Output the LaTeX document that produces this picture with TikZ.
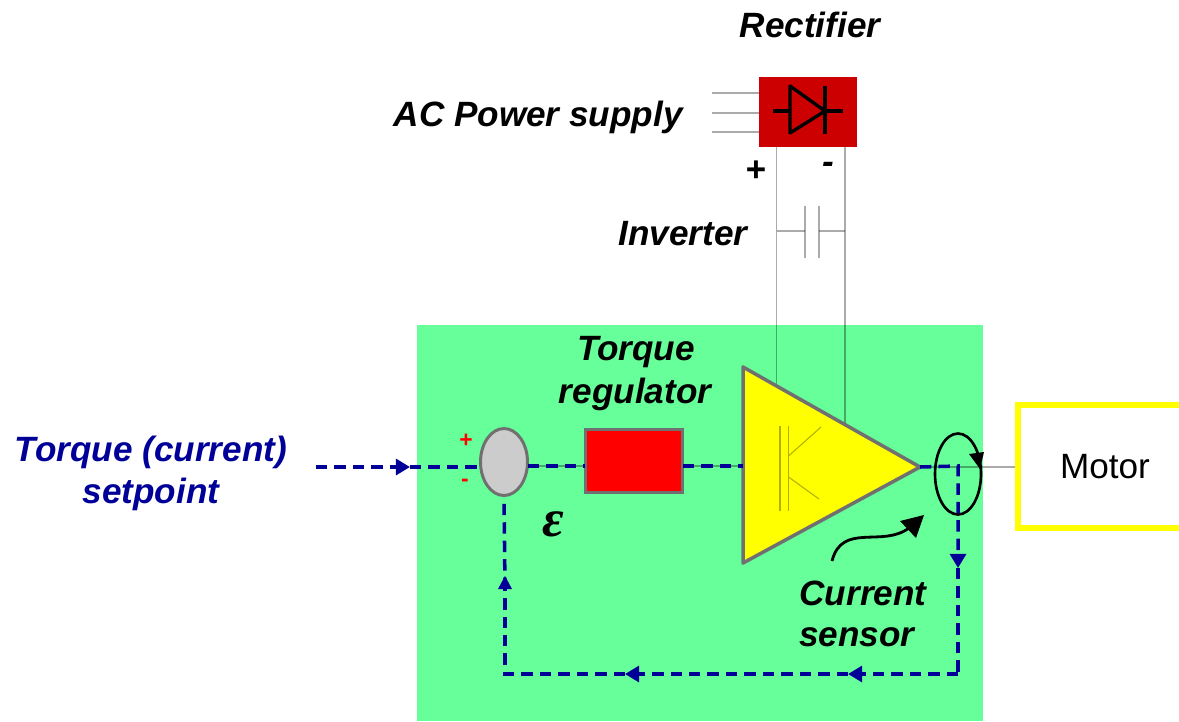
\documentclass[tikz,border=0pt]{standalone}
\usepackage{fontspec}
\setmainfont{Liberation Sans}
\newfontfamily\epsfont{Liberation Serif}
\usetikzlibrary{arrows.meta,shapes.geometric}
\definecolor{panelgreen}{HTML}{66FF99}
\definecolor{rectred}{HTML}{CC0000}
\definecolor{setblue}{HTML}{000099}
\definecolor{boxgray}{HTML}{707070}
\definecolor{pureyellow}{HTML}{FFFF00}
\definecolor{igbtline}{HTML}{B0B000}
\tikzset{
  lbl/.style={font=\fontsize{20}{24}\selectfont\bfseries\itshape, inner sep=0pt},
  wire/.style={draw=black, draw opacity=0.33, line width=0.7pt},
  sig/.style={draw=setblue, line width=2pt, dash pattern=on 6.5pt off 4pt},
  sigtip/.style={-{Triangle[length=8pt,width=9pt,fill=setblue]}},
  ink/.style={draw=black, line width=1.6pt},
}
\begin{document}
\begin{tikzpicture}[x=0.02cm,y=-0.02cm]
        \useasboundingbox (0,0) rectangle (1179,721);
        \fill[panelgreen] (417,325) rectangle (983,721);
        %-----rectifier and supply
         \node[draw=none, fill=rectred, minimum width=1.96cm, minimum height=1.4cm, inner sep=0pt] (RECT) at (808,112) {};
         \node[lbl] (RECTL) at (810,25) {Rectifier};
         \node[lbl, anchor=east] (ACL) at (683,117) {AC Power supply};
         \node[lbl] (PLUS) at (756,171) {+};
         \node[lbl] (MINUS) at (828,168) {-};
         \node[lbl] (INVL) at (683,234) {Inverter};
         \coordinate (ACa) at (712,93);
         \coordinate (ACb) at (712,113);
         \coordinate (ACc) at (712,132);
         \foreach \from in {ACa,ACb,ACc}
         \draw[wire] (\from) -- (\from -| RECT.west);
         %-----diode
         \coordinate (Da) at (773,111);
         \coordinate (Db) at (843,111);
         \coordinate (Dc) at (790,86);
         \coordinate (Dd) at (790,133);
         \coordinate (De) at (825,111);
         \coordinate (Df) at (825,86);
         \coordinate (Dg) at (825,134);
         \draw[line width=1.9pt] (Da) -- (Dc |- Da);
         \draw[line width=1.9pt] (De) -- (Db);
         \draw[line width=1.9pt, line join=round] (Dc) -- (De) -- (Dd) -- cycle;
         \draw[line width=1.9pt] (Df) -- (Dg);
        %-----drive panel
         \coordinate (TRa) at (743,367);
         \coordinate (TRb) at (743,563);
         \coordinate (TRc) at (920,467);
         \coordinate (POS) at (776.5,386);
         \coordinate (NEG) at (845,424);
         \draw[wire] (POS |- RECT.south) -- (POS);
         \draw[wire] (NEG |- RECT.south) -- (NEG);
         \coordinate (CAPa) at (805,231);
         \coordinate (CAPb) at (819,231);
         \draw[wire] (POS |- CAPa) -- (CAPa);
         \draw[wire] (CAPb) -- (NEG |- CAPb);
         \draw[wire] (805,206) -- (805,258);
         \draw[wire] (819,206) -- (819,258);
         \node[draw=boxgray, fill=black!20, ellipse, line width=1.7pt, minimum width=0.94cm, minimum height=1.34cm, inner sep=0pt] (SUM) at (504,462) {};
         \node[draw=boxgray, fill=red, line width=1.5pt, minimum width=1.94cm, minimum height=1.26cm, inner sep=0pt] (REG) at (634,461) {};
         \node[draw=pureyellow, line width=3.4pt, minimum width=3.6cm, minimum height=2.46cm, inner sep=0pt, anchor=west] (MOT) at (1015,466.5) {};
         \node[font=\fontsize{20}{24}\selectfont, inner sep=0pt] (MOTL) at (1105,467) {Motor};
         \node[draw=black, line width=1.5pt, ellipse, minimum width=0.92cm, minimum height=1.62cm, inner sep=0pt] (SENS) at (958,474) {};
         \draw[draw=boxgray, fill=pureyellow, line width=2pt, line join=round] (TRa) -- (TRb) -- (TRc) -- cycle;
         %-----transistor
         \draw[draw=igbtline, line width=0.6pt] (780,426) -- (780,511);
         \draw[draw=igbtline, line width=0.6pt] (788.5,426) -- (788.5,511);
         \draw[draw=igbtline, line width=0.6pt] (788.5,456) -- (821,427);
         \draw[draw=igbtline, line width=0.6pt] (788.5,477) -- (819,499);
         \coordinate (OUT) at (958,466);
         \coordinate (SUMo) at (528,466);
         \coordinate (REGi) at (585,466);
         \coordinate (REGo) at (683,466);
         \coordinate (TRi) at (743,466);
         \draw[wire] (TRc) -- (TRc -| MOT.west);
         \draw[wire] (SUMo) -- (REGi);
         \draw[wire] (REGo) -- (TRi);
         %-----feedback loop
         \coordinate (SET) at (316,467);
         \coordinate (ARa) at (410,467);
         \coordinate (ARb) at (958,568);
         \coordinate (CORa) at (958,674);
         \coordinate (ARc) at (848,674);
         \coordinate (ARd) at (625,674);
         \coordinate (CORb) at (505,674);
         \coordinate (ARe) at (505,589);
         \draw[sig, sigtip] (SET) -- (ARa);
         \draw[sig] (ARa) -- (SUM.west |- ARa);
         \draw[sig] (SUMo) -- (REGi);
         \draw[sig] (REGo) -- (TRi);
         \draw[sig, sigtip] (TRc) -- (OUT) -- (ARb);
         \draw[sig] (ARb) -- (CORa);
         \draw[sig, sigtip] (CORa) -- (ARc);
         \draw[sig, sigtip] (ARc) -- (ARd);
         \draw[sig] (ARd) -- (CORb) -- (ARe);
         \draw[sig] (ARe) -- (SUM.south);
         \fill[setblue] (505,576) -- (498,589) -- (512,589) -- cycle;
         %-----sensor arrows
         \fill (969,454) -- (984,452) -- (980,469) -- cycle;
         \coordinate (CSa) at (832,561);
         \coordinate (CSb) at (909,528);
         \draw[ink] (CSa) .. controls (842,522) and (882,548) .. (CSb);
         \fill (924,515) -- (900,521) -- (916,538) -- cycle;
        %-----labels
         \node[lbl] (REGa) at (636,352) {Torque};
         \node[lbl] (REGb) at (635,394) {regulator};
         \node[lbl, text=setblue] (SETa) at (151,452) {Torque (current)};
         \node[lbl, text=setblue] (SETb) at (151,494) {setpoint};
         \node[lbl] (CURa) at (863,593) {Current};
         \node[lbl] (CURb) at (857,637) {sensor};
         \node[lbl, text=red, font=\fontsize{13}{15}\selectfont\bfseries] (SUMa) at (466,441) {+};
         \node[lbl, text=red, font=\fontsize{13}{15}\selectfont\bfseries] (SUMb) at (465,483) {-};
         \node[lbl, font=\fontsize{30}{34}\selectfont\epsfont\bfseries\itshape] (EPS) at (553,524) {ε};
\end{tikzpicture}
\end{document}
